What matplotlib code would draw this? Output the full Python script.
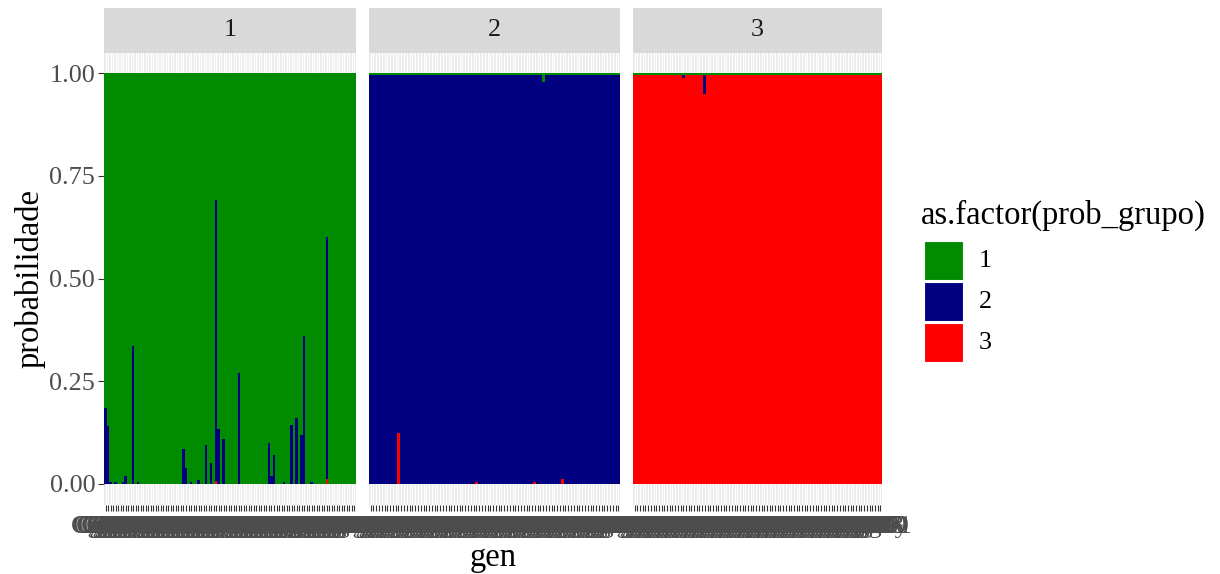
import numpy as np
import matplotlib
matplotlib.use("Agg")
import matplotlib.pyplot as plt
from matplotlib.patches import Rectangle

plt.rcParams["font.family"] = ["Liberation Serif", "DejaVu Serif"]

# =====================================
# DADOS
# =====================================
grupos = ["1", "2", "3"]
n_gen = [100, 90, 92]
cores = {"1": "#008B00", "2": "#000080", "3": "#FF0000"}

# painel 1: prob do grupo 2 e 3 (o resto é grupo 1)
p1_idx_g2 = [0, 1, 2, 4, 7, 8, 11, 13, 31, 32, 34, 37, 40, 42, 44, 45, 47,
             53, 65, 66, 67, 71, 74, 76, 78, 79, 82, 88]
p1_val_g2 = [0.185, 0.14, 0.005, 0.004, 0.005, 0.02, 0.335, 0.004, 0.085,
             0.04, 0.004, 0.01, 0.095, 0.05, 0.685, 0.133, 0.11, 0.27, 0.10,
             0.02, 0.07, 0.004, 0.143, 0.16, 0.12, 0.36, 0.004, 0.59]
p1_idx_g3 = [44, 88]
p1_val_g3 = [0.006, 0.012]

# painel 2: prob do grupo 1 e 3 (o resto é grupo 2)
p2_base_g1 = 0.005
p2_idx_g1 = [62]
p2_val_g1 = [0.022]
p2_idx_g3 = [10, 38, 59, 69]
p2_val_g3 = [0.124, 0.005, 0.005, 0.012]

# painel 3: prob do grupo 1 e 2 (o resto é grupo 3)
p3_base_g1 = 0.005
p3_idx_g2 = [18, 26]
p3_val_g2 = [0.008, 0.045]

# nomes dos genotipos
gen_nomes = [[f"Cg{k:03d}" for k in range(1, n + 1)] for n in n_gen]
gen_nomes[2][-1] = "Cg0y"


def montar(n, base, idx, val):
    arr = np.full(n, base, dtype=float)
    arr[idx] = val
    return arr


probs = []
g2 = montar(n_gen[0], 0.0, p1_idx_g2, p1_val_g2)
g3 = montar(n_gen[0], 0.0, p1_idx_g3, p1_val_g3)
probs.append((1 - g2 - g3, g2, g3))

g1 = montar(n_gen[1], p2_base_g1, p2_idx_g1, p2_val_g1)
g3 = montar(n_gen[1], 0.0, p2_idx_g3, p2_val_g3)
probs.append((g1, 1 - g1 - g3, g3))

g1 = montar(n_gen[2], p3_base_g1, [], [])
g2 = montar(n_gen[2], 0.0, p3_idx_g2, p3_val_g2)
probs.append((g1, g2, 1 - g1 - g2))

# =====================================
# FIGURA
# =====================================
W, H = 1220, 574
fig = plt.figure(figsize=(W / 100, H / 100), dpi=100)


def fx(px):
    return px / W


def fy(py):
    return 1 - py / H


paineis_x = [(104, 356), (369, 620), (633, 882)]
topo, base = 52.5, 504.5
strip_topo = 8

cor_tick = "#4D4D4D"
tam_tick = 18.8
tam_titulo = 23.5

for k, (x0, x1) in enumerate(paineis_x):
    ax = fig.add_axes([fx(x0), fy(base), fx(x1) - fx(x0), fy(topo) - fy(base)])
    ax.set_facecolor("#EBEBEB")
    n = n_gen[k]
    x = np.arange(n)
    bordas = np.arange(n + 1) - 0.5
    a1, a2, a3 = probs[k]

    # barras empilhadas (3 embaixo, 2 no meio, 1 em cima)
    fundo = np.zeros(n)
    for g, a in (("3", a3), ("2", a2), ("1", a1)):
        ax.stairs(fundo + a, bordas, baseline=fundo, fill=True,
                  color=cores[g], linewidth=0, zorder=3)
        fundo = fundo + a

    ax.set_xlim(-0.6, n - 1 + 0.6)
    ax.set_ylim(-0.05, 1.05)
    ax.set_xticks(x)
    ax.set_xticklabels(gen_nomes[k], fontsize=tam_tick, color=cor_tick)
    ax.set_yticks([0, 0.25, 0.5, 0.75, 1.0])
    ax.grid(axis="x", color="white", linewidth=0.9, zorder=0)
    ax.set_axisbelow(True)
    for s in ax.spines.values():
        s.set_visible(False)
    ax.tick_params(axis="x", length=4.3, width=0.8, color="#333333", pad=4)
    if k == 0:
        ax.set_yticklabels(["0.00", "0.25", "0.50", "0.75", "1.00"],
                           fontsize=tam_tick, color=cor_tick)
        ax.tick_params(axis="y", length=4.3, width=0.8, color="#333333", pad=2)
    else:
        ax.tick_params(axis="y", length=0, labelleft=False)

    # faixa do facet
    st = fig.add_axes([fx(x0), fy(topo), fx(x1) - fx(x0), fy(strip_topo) - fy(topo)])
    st.set_facecolor("#D9D9D9")
    st.set_xticks([])
    st.set_yticks([])
    for s in st.spines.values():
        s.set_visible(False)
    st.text(0.5, 0.5, grupos[k], ha="center", va="center",
            fontsize=tam_tick, color="#1A1A1A", transform=st.transAxes)

# titulos dos eixos
fig.text(fx(493), fy(558), "gen", ha="center", va="center", fontsize=tam_titulo)
fig.text(fx(30), fy(278), "probabilidade", ha="center", va="center",
         rotation=90, fontsize=tam_titulo)

# =====================================
# LEGENDA
# =====================================
fig.text(fx(921), fy(215), "as.factor(prob_grupo)", ha="left", va="center",
         fontsize=tam_titulo)
for j, g in enumerate(grupos):
    y_top = 241 + j * 41
    fig.add_artist(Rectangle((fx(924), fy(y_top + 38.5)), fx(38.5), 38.5 / H,
                             transform=fig.transFigure, facecolor=cores[g],
                             edgecolor="white", linewidth=0.8))
    fig.text(fx(979), fy(y_top + 20), g, ha="left", va="center",
             fontsize=tam_tick)

fig.savefig("out.png", dpi=100)
